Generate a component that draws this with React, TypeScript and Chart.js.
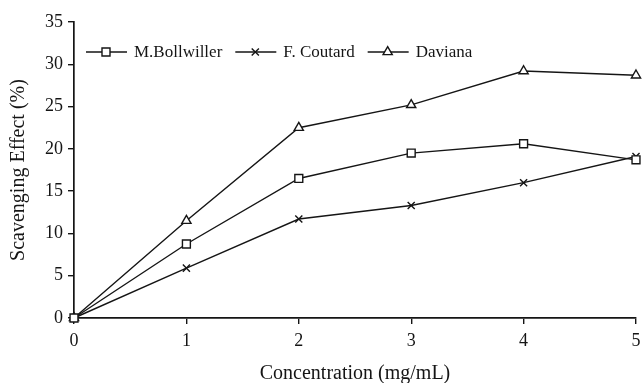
import React, { useEffect, useRef } from "react";
import { Chart, registerables } from "chart.js";

Chart.register(...registerables);

const concentrations = [0, 1, 2, 3, 4, 5];
const bollwiller = [0, 8.75, 16.5, 19.5, 20.6, 18.7];
const coutard = [0, 5.9, 11.7, 13.3, 16.0, 19.1];
const daviana = [0, 11.5, 22.5, 25.2, 29.2, 28.7];
const seriesNames = ["M.Bollwiller", "F. Coutard", "Daviana"];
const seriesStyles = ["rect", "crossRot", "triangle"];
const xTitle = "Concentration (mg/mL)";
const yTitle = "Scavenging Effect (%)";

const INK = "#151515";
const FONT = "'Liberation Serif', 'Times New Roman', serif";

function drawMarker(ctx: CanvasRenderingContext2D, style: string, x: number, y: number) {
  ctx.save();
  ctx.strokeStyle = INK;
  ctx.fillStyle = "#ffffff";
  ctx.lineWidth = 1.4;
  ctx.beginPath();
  if (style === "rect") {
    const s = 4;
    ctx.rect(x - s, y - s, 2 * s, 2 * s);
    ctx.fill();
    ctx.stroke();
  } else if (style === "triangle") {
    const r = 5.3;
    ctx.moveTo(x, y - r);
    ctx.lineTo(x + r * 0.866, y + r * 0.5);
    ctx.lineTo(x - r * 0.866, y + r * 0.5);
    ctx.closePath();
    ctx.fill();
    ctx.stroke();
  } else {
    const d = 3.6;
    ctx.moveTo(x - d, y - d);
    ctx.lineTo(x + d, y + d);
    ctx.moveTo(x + d, y - d);
    ctx.lineTo(x - d, y + d);
    ctx.stroke();
  }
  ctx.restore();
}

const legendPlugin = {
  id: "customLegend",
  afterDraw(chart: any) {
    const ctx: CanvasRenderingContext2D = chart.ctx;
    ctx.save();
    ctx.font = `17px ${FONT}`;
    ctx.textBaseline = "middle";
    ctx.fillStyle = INK;
    let x = 86;
    const y = 52;
    chart.data.datasets.forEach((ds: any) => {
      ctx.strokeStyle = INK;
      ctx.lineWidth = 1.4;
      ctx.beginPath();
      ctx.moveTo(x, y);
      ctx.lineTo(x + 41, y);
      ctx.stroke();
      drawMarker(ctx, ds.pointStyle, x + 20, y);
      const tx = x + 48;
      ctx.fillStyle = INK;
      ctx.fillText(ds.label, tx, y + 1);
      x = tx + ctx.measureText(ds.label).width + 13;
    });
    ctx.restore();
  },
};

export default function App() {
  const ref = useRef<HTMLCanvasElement>(null);
  useEffect(() => {
    const values = [bollwiller, coutard, daviana];
    const chart = new Chart(ref.current!, {
      type: "line",
      data: {
        datasets: values.map((vals, i) => ({
          label: seriesNames[i],
          data: concentrations.map((c, j) => ({ x: c, y: vals[j] })),
          borderColor: INK,
          borderWidth: 1.4,
          backgroundColor: "#ffffff",
          pointStyle: seriesStyles[i] as any,
          pointRadius: seriesStyles[i] === "rect" ? 5.6 : seriesStyles[i] === "triangle" ? 5.3 : 5,
          pointBorderColor: INK,
          pointBorderWidth: 1.4,
          pointBackgroundColor: "#ffffff",
          tension: 0,
          clip: false as any,
        })),
      },
      options: {
        animation: false,
        responsive: false,
        devicePixelRatio: 1,
        layout: { padding: { top: 22, right: 2, left: 0, bottom: 0 } },
        plugins: { legend: { display: false }, tooltip: { enabled: false } },
        scales: {
          x: {
            type: "linear",
            min: 0,
            max: 5,
            ticks: { stepSize: 1, color: INK, font: { family: FONT, size: 18 }, padding: 6, maxRotation: 0 },
            grid: { drawOnChartArea: false, drawTicks: true, tickLength: 6, color: INK, lineWidth: 1.4 },
            border: { display: true, color: INK, width: 1.7 },
            title: { display: true, text: xTitle, color: INK, font: { family: FONT, size: 20 }, padding: { top: 0, bottom: -3 } },
            afterFit: (s: any) => {
              s.height = 65;
              s.paddingLeft = 0;
              s.paddingRight = 0;
            },
          },
          y: {
            min: 0,
            max: 35,
            ticks: { stepSize: 5, color: INK, font: { family: FONT, size: 18 }, padding: 5 },
            grid: { drawOnChartArea: false, drawTicks: true, tickLength: 6, color: INK, lineWidth: 1.4 },
            border: { display: true, color: INK, width: 1.7 },
            title: { display: true, text: yTitle, color: INK, font: { family: FONT, size: 20 }, padding: { top: 7, bottom: 0 } },
            afterFit: (s: any) => { s.width = 74; },
          },
        },
      },
      plugins: [legendPlugin],
    });
    return () => chart.destroy();
  }, []);
  return (
    <div style={{ position: "fixed", left: 0, top: 0, width: 643, height: 383, background: "#fff" }}>
      <canvas ref={ref} width={643} height={383} style={{ display: "block" }} />
    </div>
  );
}
